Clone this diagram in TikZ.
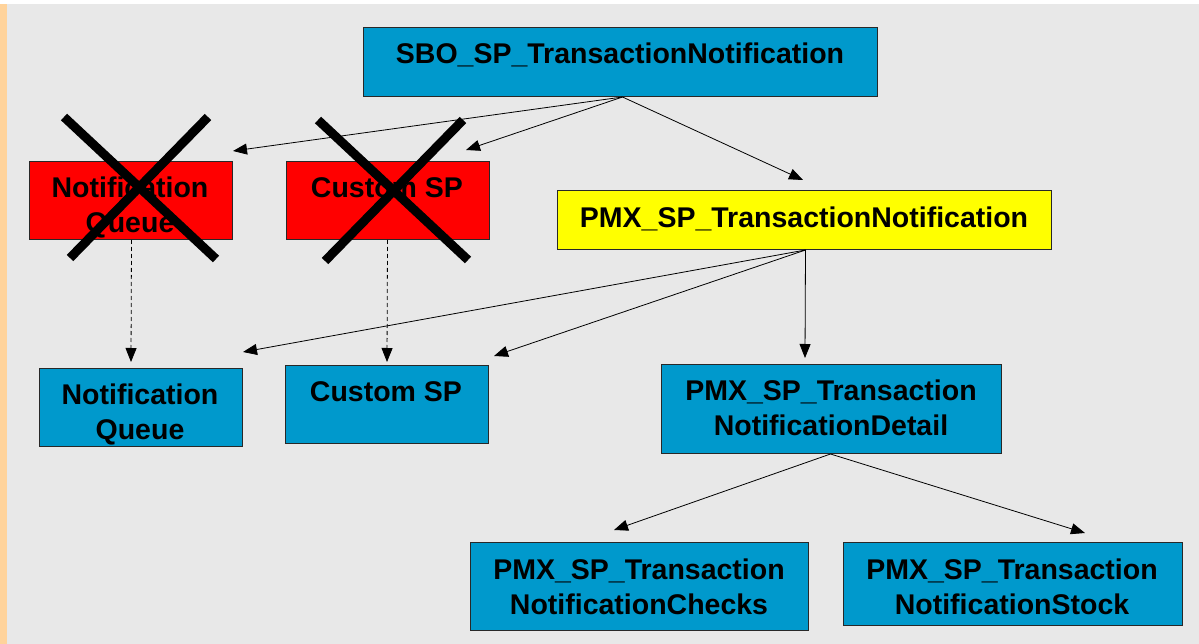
\documentclass[tikz,border=0pt]{standalone}
\usepackage{fontspec}
\setmainfont{Liberation Sans}
\usetikzlibrary{arrows.meta}
\definecolor{bgray}{RGB}{232,232,232}
\definecolor{strip}{RGB}{255,211,155}
\definecolor{boxblue}{RGB}{0,153,204}
\definecolor{boxred}{RGB}{255,0,0}
\definecolor{boxyellow}{RGB}{255,255,0}
\definecolor{edge}{RGB}{40,40,40}
\tikzset{
  box/.style={draw=edge, line width=1pt, inner sep=0pt, anchor=north west},
  bluebox/.style={box, fill=boxblue},
  redbox/.style={box, fill=boxred},
  yellowbox/.style={box, fill=boxyellow},
  txt/.style={inner sep=0pt, anchor=north, align=center, font=\fontsize{28.5}{34.5}\selectfont\bfseries},
  conn/.style={line width=0.8pt, -{Triangle[length=14pt,width=11pt]}},
  dconn/.style={conn, dash pattern=on 4pt off 3pt},
  cross/.style={line width=9pt, black}
}
\begin{document}
\begin{tikzpicture}[x=1pt,y=-1pt]
\useasboundingbox (0,0) rectangle (1199,644);
\fill[white] (0,0) rectangle (1199,644);
\fill[bgray] (0,4) rectangle (1199,644);
\fill[strip] (0,4) rectangle (7,644);

% boxes
\node[bluebox, minimum width=514pt, minimum height=69pt] (sbo) at (363,27) {};
\node[redbox, minimum width=203pt, minimum height=78pt] (nqr) at (29,161) {};
\node[redbox, minimum width=203pt, minimum height=78pt] (csr) at (286,161) {};
\node[yellowbox, minimum width=494pt, minimum height=59pt] (pmx) at (557,190) {};
\node[bluebox, minimum width=203pt, minimum height=78pt] (nqb) at (39,368) {};
\node[bluebox, minimum width=203pt, minimum height=78pt] (csb) at (285,365) {};
\node[bluebox, minimum width=340pt, minimum height=89pt] (det) at (661,364) {};
\node[bluebox, minimum width=338pt, minimum height=88pt] (chk) at (470,542) {};
\node[bluebox, minimum width=339pt, minimum height=83pt] (stk) at (843,542) {};

% texts
\node[txt] (sbot) at (620,43) {SBO\_SP\_TransactionNotification};
\node[txt] (nqrt) at (130,177) {Notification\\Queue};
\node[txt] (csrt) at (387,177) {Custom SP};
\node[txt] (pmxt) at (804,207) {PMX\_SP\_TransactionNotification};
\node[txt] (nqbt) at (140,384) {Notification\\Queue};
\node[txt] (csbt) at (386,381) {Custom SP};
\node[txt] (dett) at (831,380) {PMX\_SP\_Transaction\\NotificationDetail};
\node[txt] (chkt) at (639,559) {PMX\_SP\_Transaction\\NotificationChecks};
\node[txt] (stkt) at (1012,559) {PMX\_SP\_Transaction\\NotificationStock};

% arrow end points
\coordinate (e1) at (233,151);
\coordinate (e2) at (466,150);
\coordinate (e3) at (803,180);
\coordinate (e4) at (243,352);
\coordinate (e5) at (494,356);
\coordinate (e6) at (805,358);
\coordinate (e7) at (131,362);
\coordinate (e8) at (387,362);
\coordinate (e9) at (614,530);
\coordinate (e10) at (1085,533);

\draw[conn] ([xshift=2pt]sbo.south) -- (e1);
\draw[conn] ([xshift=2pt]sbo.south) -- (e2);
\draw[conn] ([xshift=2pt]sbo.south) -- (e3);
\draw[conn] ([xshift=1pt]pmx.south) -- (e4);
\draw[conn] ([xshift=1pt]pmx.south) -- (e5);
\draw[conn] ([xshift=1pt]pmx.south) -- (e6);
\draw[dconn] ([xshift=0.5pt]nqr.south) -- (e7);
\draw[dconn] ([xshift=-0.5pt]csr.south) -- (e8);
\draw[conn] ([xshift=-1pt]det.south) -- (e9);
\draw[conn] ([xshift=-1pt]det.south) -- (e10);

% crosses
\draw[cross] (64,117) -- (216,259);
\draw[cross] (208,117) -- (70,258);
\draw[cross] (318,120) -- (468,260);
\draw[cross] (463,120) -- (325,261);
\end{tikzpicture}
\end{document}
